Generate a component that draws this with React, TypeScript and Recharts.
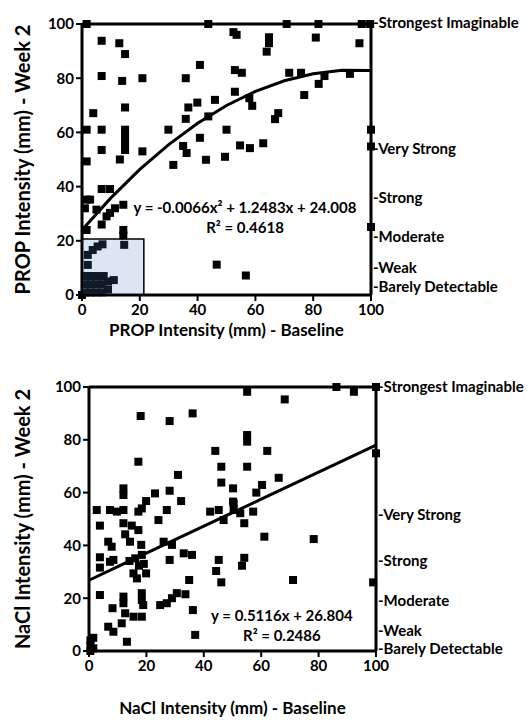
import React from "react";
import {
  ScatterChart,
  Scatter,
  XAxis,
  YAxis,
  ReferenceLine,
  ReferenceArea,
  ReferenceDot,
  Label,
} from "recharts";

const FONT = "Lato, 'Open Sans', sans-serif";

// PROP: baseline (x) vs week 2 (y)
const PROP_X = [
  1.6, 43.7, 6.8, 12.9, 14.9, 6.8, 13.9, 20.9, 35.9, 40.8,
  3.9, 14.9, 36.8, 39.9, 46, 35.9, 43.7, 1.6, 6.8, 14.9,
  14.9, 14.9, 14.9, 29.9, 40.8, 50, 35, 6.8, 20.9, 70.8,
  81.8, 96.8, 99.7, 52.4, 53.5, 64.7, 64.7, 63.9, 80.9, 96,
  52.9, 55.3, 71.7, 75.8, 83.9, 92.7, 81.9, 52.9, 76.9, 57.9,
  58.9, 67.9, 66.8, 54.7, 58.1, 62.7, 100, 100, 13.1, 31.6,
  36.2, 42.9, 49.5, 1.6, 6.8, 9.7, 1.6, 2.8, 1, 5,
  11.4, 14.3, 8.5, 9.7, 6.8, 1.6, 14.3, 14.3, 2, 3.7,
  5.4, 7.1, 14.6, 2, 1, 1, 1, 3, 3, 3,
  5, 5, 5, 7, 7, 7.5, 9, 9, 11, 0,
  46.6, 56.7, 100,
];
const PROP_Y = [
  100, 100, 93.8, 92.9, 88.9, 80.8, 79, 80, 80, 84.9,
  67.1, 69.2, 69.2, 71, 72, 65, 65.9, 61, 61, 61,
  58.5, 56, 53.5, 61, 58, 61, 55, 53.5, 53, 100,
  100, 100, 100, 97, 96, 95.1, 92.9, 89.8, 95, 92.9,
  83, 82, 82, 82, 80.8, 81.6, 77.9, 75, 73.8, 72.6,
  69.8, 67.1, 64.9, 55.2, 54.2, 56, 61, 54.8, 50, 48,
  52.4, 49.9, 51, 49.3, 39.1, 39.1, 35.2, 35.2, 32, 31.5,
  32, 33.3, 29, 30.3, 26, 24, 24, 22, 14.8, 16.6,
  17.9, 18.7, 18.5, 11.1, 1, 4, 7, 1, 4, 7,
  1, 4, 7, 1, 4, 7, 2, 5, 5.5, 0,
  11.2, 7.2, 25.1,
];

// NaCl: baseline (x) vs week 2 (y)
const NACL_X = [
  18, 28.1, 36.1, 17.2, 12, 12, 19.9, 23, 28.1, 31,
  32.1, 44, 46.1, 46.1, 55.1, 68.2, 86.2, 92.3, 100, 100,
  55.1, 55.1, 62.1, 55.1, 66.1, 60.3, 58.3, 50.2, 50.2, 2.7,
  7.3, 9.7, 12, 17.2, 18.4, 27.1, 42.2, 45.2, 46.9, 24.2,
  3.8, 12, 14.9, 17.2, 12.6, 6.7, 7.9, 14.3, 18.2, 26,
  28.9, 3.8, 7.3, 8.5, 3.8, 14.1, 16.1, 18.4, 17.4, 19.1,
  15.5, 16.7, 19.9, 28.1, 33, 35.9, 45.2, 44.3, 34.9, 46.1,
  3.8, 12, 12, 18.4, 18.4, 18.9, 8.2, 12.6, 11.4, 15.5,
  18.4, 24.8, 27.1, 28.9, 30.6, 33.6, 36.2, 6.7, 8.5, 13.2,
  37, 0.5, 0.5, 0.5, 1.5, 1.5, 50.4, 50.4, 52.7, 57.2,
  54.1, 61.1, 78.3, 54.1, 53.3, 71.1, 99,
];
const NACL_Y = [
  89, 87.1, 90, 71.7, 61.6, 59.1, 56.8, 59.7, 60.7, 66.7,
  56.8, 75.8, 69.8, 63.8, 98.2, 95.3, 100, 98.2, 100, 74.9,
  81.8, 79.3, 75.8, 69.8, 65.6, 62.9, 60, 61.6, 56.6, 53.4,
  53.4, 52.8, 53.4, 52.8, 54, 53.4, 52.8, 53.4, 49.6, 49.6,
  47.5, 48.4, 47.5, 45.8, 44.2, 41.4, 39.5, 41.4, 40.2, 41.4,
  40.2, 35.5, 33.8, 34.5, 31.6, 34.1, 35.1, 36.4, 32.3, 33,
  29.4, 27.5, 29.4, 34.5, 37, 36.4, 34.5, 30.3, 26.9, 26,
  21.2, 20.6, 18.1, 21.9, 19.3, 17.4, 16.2, 14.3, 10.5, 13,
  13, 17.4, 18.1, 20, 21.9, 21.5, 15.5, 9.2, 7.3, 3.5,
  6.1, 0, 2, 4, 1, 5, 55.9, 53.4, 52.2, 52.8,
  48.4, 43.3, 42.4, 35.3, 32.3, 26.9, 26,
];

const AXIS_TICKS = [0, 20, 40, 60, 80, 100];
const GLMS_NAMES = ["Strongest Imaginable", "Very Strong", "Strong", "Moderate", "Weak", "Barely Detectable"];
const PROP_GLMS_AT = [100.5, 54, 36, 21.5, 10, 3];
const NACL_GLMS_AT = [100, 51.5, 34, 19, 7.5, 1];

// trendline coefficients as printed on the chart
const PROP_FIT = [-0.0066, 1.2483, 24.008];
const NACL_FIT = [0.5116, 26.804];
const FIT_X = [0, 10, 20, 30, 40, 50, 60, 70, 80, 90, 100];
const PROP_EQ = ["y = -0.0066x² + 1.2483x + 24.008", "R² = 0.4618"];
const NACL_EQ = ["y = 0.5116x + 26.804", "R² = 0.2486"];

// shaded region in the PROP panel
const PROP_BOX = { x2: 21.4, y2: 20.7 };

const propPoints = PROP_X.map((x, i) => ({ x, y: PROP_Y[i] }));
const naclPoints = NACL_X.map((x, i) => ({ x, y: NACL_Y[i] }));
const propCurve = FIT_X.map((x) => ({ x, y: PROP_FIT[0] * x * x + PROP_FIT[1] * x + PROP_FIT[2] }));
const naclCurve = FIT_X.map((x) => ({ x, y: NACL_FIT[0] * x + NACL_FIT[1] }));

const SquareDot = (p: any) => (
  <rect x={p.cx - 4} y={p.cy - 4} width={8} height={8} fill="#000" />
);

const NoDot = () => <g />;

const GlmsLabel = ({ viewBox, text }: any) => {
  const x = viewBox.x + (viewBox.width || 0) / 2 + 2;
  const y = viewBox.y + (viewBox.height || 0) / 2;
  return (
    <text x={x} y={y} dy="0.35em" textAnchor="start" fontFamily={FONT} fontSize={15} fontWeight={700} fill="#000">
      -{text}
    </text>
  );
};

const EqLabel = ({ viewBox, lines }: any) => {
  const x = viewBox.x + (viewBox.width || 0) / 2;
  const y = viewBox.y + (viewBox.height || 0) / 2;
  return (
    <text x={x} y={y} textAnchor="middle" fontFamily={FONT} fontSize={15} fontWeight={700} fill="#000">
      {lines.map((l: string, i: number) => (
        <tspan key={i} x={x} dy={i === 0 ? "0.35em" : 20}>{l}</tspan>
      ))}
    </text>
  );
};

const tickStyle = { fontSize: 15, fontWeight: 700, fill: "#000", fontFamily: FONT };
const xTitleProps = { fill: "#000", fontSize: 17, fontWeight: 700, fontFamily: FONT };
const yTitleProps = { fill: "#000", fontSize: 20, fontWeight: 700, fontFamily: FONT };
const axisLine = { stroke: "#000", strokeWidth: 3 };
const tickLine = { stroke: "#000", strokeWidth: 2 };

interface PanelProps {
  width: number;
  height: number;
  top: number;
  leftW: number;
  rightW: number;
  bottomH: number;
  points: { x: number; y: number }[];
  curve: { x: number; y: number }[];
  glmsAt: number[];
  xTitle: string;
  yTitle: string;
  xTitleOffset: number;
  eq: string[];
  eqAt: [number, number];
  box?: { x2: number; y2: number };
}

function Panel(p: PanelProps) {
  return (
    <ScatterChart
      width={p.width}
      height={p.height}
      margin={{ top: p.top, right: p.rightW, bottom: 0, left: 0 }}
    >
      <XAxis
        type="number"
        dataKey="x"
        domain={[0, 100]}
        ticks={AXIS_TICKS}
        height={p.bottomH}
        tick={tickStyle}
        tickSize={6}
        tickMargin={3}
        tickLine={tickLine}
        axisLine={axisLine}
      >
        <Label value={p.xTitle} position="insideBottom" offset={p.xTitleOffset} {...xTitleProps} />
      </XAxis>
      <YAxis
        type="number"
        dataKey="y"
        domain={[0, 100]}
        ticks={AXIS_TICKS}
        width={p.leftW}
        tick={tickStyle}
        tickSize={6}
        tickMargin={2}
        tickLine={tickLine}
        axisLine={axisLine}
      >
        <Label value={p.yTitle} angle={-90} position="insideLeft" offset={23} style={{ textAnchor: "middle" }} {...yTitleProps} />
      </YAxis>
      <ReferenceLine y={100} stroke="#000" strokeWidth={3} />
      <ReferenceLine x={100} stroke="#000" strokeWidth={3} />
      <Scatter data={p.points} shape={SquareDot} isAnimationActive={false} />
      {p.box && (
        <ReferenceArea
          x1={0}
          x2={p.box.x2}
          y1={0}
          y2={p.box.y2}
          fill="#4f81bd"
          fillOpacity={0.2}
          stroke="#000"
          strokeWidth={1.5}
          zIndex={700}
        />
      )}
      <Scatter
        data={p.curve}
        line={{ stroke: "#000", strokeWidth: 3 }}
        lineType="joint"
        shape={NoDot}
        isAnimationActive={false}
      />
      <ReferenceDot
        x={p.eqAt[0]}
        y={p.eqAt[1]}
        r={0}
        fill="none"
        stroke="none"
        label={<EqLabel lines={p.eq} />}
      />
      {p.glmsAt.map((v, i) => (
        <ReferenceDot
          key={GLMS_NAMES[i]}
          x={100}
          y={v}
          r={0}
          fill="none"
          stroke="none"
          ifOverflow="visible"
          label={<GlmsLabel text={GLMS_NAMES[i]} />}
        />
      ))}
    </ScatterChart>
  );
}

export default function App() {
  return (
    <div style={{ position: "absolute", left: 0, top: 0, width: 531, height: 720, background: "#fff" }}>
      <div style={{ position: "absolute", left: 0, top: 0 }}>
        <Panel
          width={531}
          height={345}
          top={24}
          leftW={82}
          rightW={160}
          bottomH={50}
          points={propPoints}
          curve={propCurve}
          glmsAt={PROP_GLMS_AT}
          xTitle="PROP Intensity (mm) - Baseline"
          yTitle="PROP Intensity (mm) - Week 2"
          xTitleOffset={9}
          eq={PROP_EQ}
          eqAt={[56.4, 32.1]}
          box={PROP_BOX}
        />
      </div>
      <div style={{ position: "absolute", left: 0, top: 345 }}>
        <Panel
          width={531}
          height={375}
          top={42}
          leftW={89}
          rightW={155}
          bottomH={69}
          points={naclPoints}
          curve={naclCurve}
          glmsAt={NACL_GLMS_AT}
          xTitle="NaCl Intensity (mm) - Baseline"
          yTitle="NaCl Intensity (mm) - Week 2"
          xTitleOffset={6}
          eq={NACL_EQ}
          eqAt={[67.2, 13.4]}
        />
      </div>
    </div>
  );
}
